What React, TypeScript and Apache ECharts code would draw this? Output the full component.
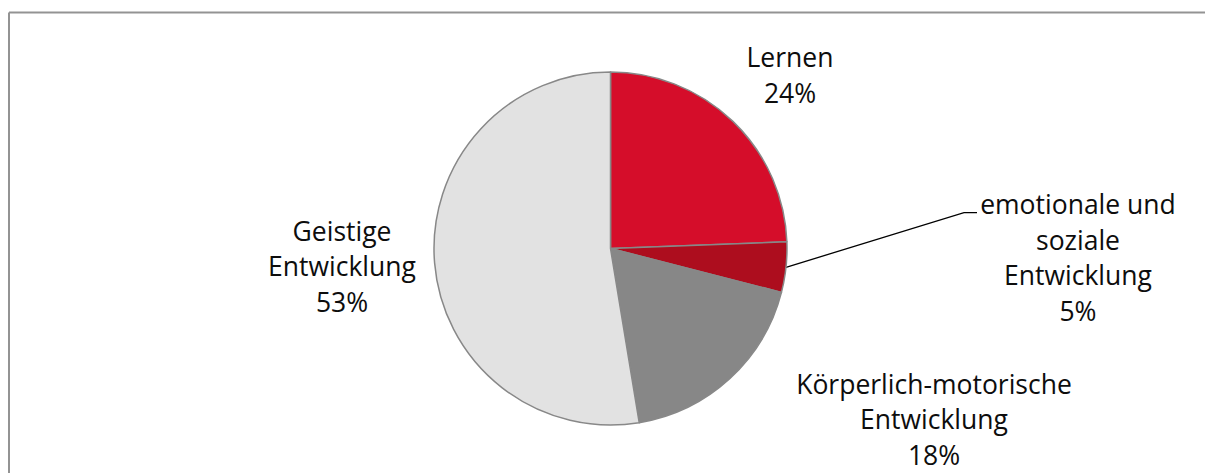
import React, { useEffect, useRef } from "react";
import * as echarts from "echarts";

const categories = [
  "Lernen",
  "emotionale und\nsoziale\nEntwicklung",
  "Körperlich-motorische\nEntwicklung",
  "Geistige\nEntwicklung",
];
const values = [24.4, 4.6, 18.4, 52.6];
const colors = ["#d50d2a", "#ad0d1e", "#878787", "#e2e2e2"];

// label anchor positions (center of the label block)
const labelPos: [number, number][] = [
  [790, 75],
  [1078, 257.5],
  [934, 419],
  [342, 266],
];

export default function App() {
  const ref = useRef<HTMLDivElement>(null);
  useEffect(() => {
    if (!ref.current) return;
    const chart = echarts.init(ref.current, undefined, { renderer: "svg" });
    chart.setOption({
      animation: false,
      backgroundColor: "#ffffff",
      graphic: [
        {
          type: "line",
          shape: { x1: 9, y1: 12.5, x2: 1205, y2: 12.5 },
          style: { stroke: "#939393", lineWidth: 2 },
        },
        {
          type: "line",
          shape: { x1: 9, y1: 12.5, x2: 9, y2: 473 },
          style: { stroke: "#939393", lineWidth: 2 },
        },
      ],
      series: [
        {
          type: "pie",
          center: [610.5, 248.5],
          radius: 176.5,
          startAngle: 90,
          clockwise: true,
          avoidLabelOverlap: false,
          itemStyle: { borderColor: "#888888", borderWidth: 1.5 },
          label: {
            show: true,
            position: "outside",
            fontFamily: "Open Sans",
            fontSize: 26.5,
            lineHeight: 35.5,
            color: "#0d0d0d",
            align: "center",
            formatter: (p: any) => `${p.name}\n${Math.round(p.percent)}%`,
          },
          labelLine: {
            show: true,
            lineStyle: { color: "#000000", width: 1.3 },
          },
          labelLayout: (params: any) => {
            const i = params.dataIndex;
            const [x, y] = labelPos[i];
            const res: any = { x, y, align: "center", verticalAlign: "middle" };
            if (i === 1 && params.labelLinePoints) {
              const start = params.labelLinePoints[0];
              res.labelLinePoints = [start, [964, 212.7], [977, 212.7]];
            }
            return res;
          },
          data: categories.map((name, i) => ({
            name,
            value: values[i],
            itemStyle: { color: colors[i] },
            labelLine: { show: i === 1 },
          })),
        },
      ],
    });
    return () => chart.dispose();
  }, []);
  return (
    <div
      ref={ref}
      style={{ position: "fixed", left: 0, top: 0, width: 1205, height: 473 }}
    />
  );
}
